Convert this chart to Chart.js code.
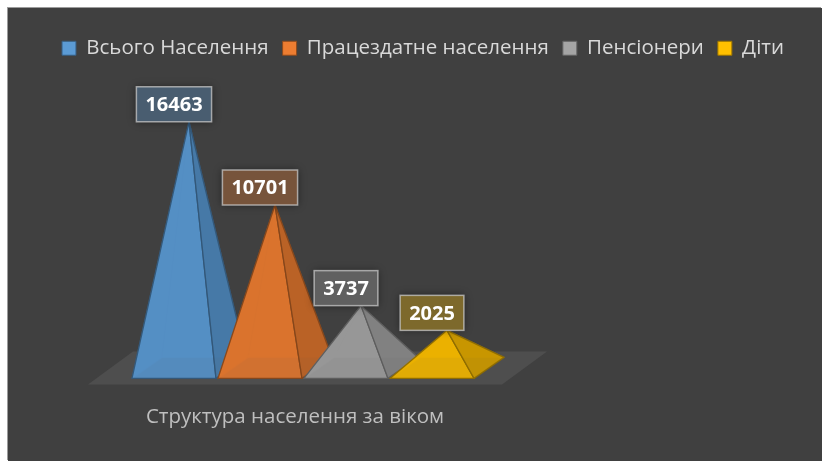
<!DOCTYPE html>
<html>
<head>
<meta charset="utf-8">
<script src="https://cdn.jsdelivr.net/npm/chart.js@4.4.1/dist/chart.umd.min.js"></script>
<style>
  body { margin: 0; background: #ffffff; }
  #wrap {
    position: absolute; left: 8px; top: 8px; width: 814px; height: 453px;
    background: #404040; box-shadow: -1px -1px 0 #9c9c9c;
  }
</style>
</head>
<body>
<div id="wrap"><canvas id="pyramids" width="814" height="453"></canvas></div>
<script>
var categories = ["Структура населення за віком"];
var seriesNames = ["Всього Населення", "Працездатне населення", "Пенсіонери", "Діти"];
var seriesValues = [16463, 10701, 3737, 2025];
var seriesColors = ["#5b9bd5", "#ed7d31", "#a5a5a5", "#ffc000"];

var fontFamily = "'Open Sans', 'Noto Sans', sans-serif";

// hex -> [r,g,b]
function rgbOf(hex) {
  var n = parseInt(hex.slice(1), 16);
  return [(n >> 16) & 255, (n >> 8) & 255, n & 255];
}
function shade(hex, f, alpha) {
  var c = rgbOf(hex);
  return "rgba(" + Math.round(c[0] * f) + "," + Math.round(c[1] * f) + "," + Math.round(c[2] * f) + "," + (alpha == null ? 1 : alpha) + ")";
}
// mix colour over the dark panel background
function overBg(hex, a) {
  var c = rgbOf(hex);
  return "rgb(" + c.map(function (v) { return Math.round(64 + (v - 64) * a); }).join(",") + ")";
}

function tri(ctx, p1, p2, p3, fill, stroke) {
  ctx.beginPath();
  ctx.moveTo(p1[0], p1[1]);
  ctx.lineTo(p2[0], p2[1]);
  ctx.lineTo(p3[0], p3[1]);
  ctx.closePath();
  ctx.fillStyle = fill;
  ctx.fill();
  ctx.strokeStyle = stroke;
  ctx.stroke();
}

// depth of the 3d look
var depthX = 30, depthY = -21;

function drawPyramid(ctx, bar, base, color) {
  var hw = bar.width / 2;
  var fl = [bar.x - hw, base], fr = [bar.x + hw, base];
  var br = [fr[0] + depthX, base + depthY], bl = [fl[0] + depthX, base + depthY];
  var apex = [bar.x + depthX / 2, bar.y];
  var edge = shade(color, 0.55, 0.9);
  ctx.save();
  ctx.lineWidth = 1.3;
  ctx.lineJoin = "round";
  tri(ctx, fl, bl, apex, shade(color, 0.8), shade(color, 0.75, 0.5));
  tri(ctx, bl, br, apex, shade(color, 0.8), shade(color, 0.75, 0.5));
  tri(ctx, fl, fr, apex, shade(color, 0.93, 0.93), edge);
  tri(ctx, fr, br, apex, shade(color, 0.78, 0.95), edge);
  ctx.restore();
}

var pyramidPlugin = {
  id: "pyramids",
  beforeDatasetsDraw: function (chart) {
    var ctx = chart.ctx, area = chart.chartArea;
    // floor
    ctx.save();
    ctx.fillStyle = "#4e4e4e";
    ctx.beginPath();
    ctx.moveTo(area.left - 8, area.bottom + 6);
    ctx.lineTo(area.right - 8, area.bottom + 6);
    ctx.lineTo(area.right + 37, area.bottom - 27);
    ctx.lineTo(area.left + 37, area.bottom - 27);
    ctx.closePath();
    ctx.fill();
    ctx.restore();
    chart.data.datasets.forEach(function (ds, i) {
      var bar = chart.getDatasetMeta(i).data[0];
      drawPyramid(ctx, bar, area.bottom, seriesColors[i]);
    });
  },
  beforeDatasetDraw: function () {
    return false; // bars are only used for their positions
  },
  afterDatasetsDraw: function (chart) {
    var ctx = chart.ctx;
    ctx.save();
    ctx.font = "bold 20px " + fontFamily;
    ctx.textAlign = "center";
    ctx.textBaseline = "middle";
    chart.data.datasets.forEach(function (ds, i) {
      var bar = chart.getDatasetMeta(i).data[0];
      var txt = String(ds.data[0]);
      var w = ctx.measureText(txt).width + 18, h = 35;
      var x = bar.x - w / 2, y = bar.y - h;
      ctx.shadowColor = "rgba(0,0,0,0.45)";
      ctx.shadowBlur = 8;
      ctx.fillStyle = overBg(seriesColors[i], 0.32);
      ctx.fillRect(x, y, w, h);
      ctx.shadowColor = "transparent";
      ctx.shadowBlur = 0;
      ctx.lineWidth = 1.5;
      ctx.strokeStyle = "rgba(200,200,200,0.75)";
      ctx.strokeRect(x, y, w, h);
      ctx.fillStyle = "#ffffff";
      ctx.fillText(txt, bar.x, y + h / 2 + 1);
    });
    ctx.restore();
  }
};

var datasets = seriesNames.map(function (name, i) {
  return {
    label: name,
    data: [seriesValues[i]],
    backgroundColor: seriesColors[i],
    borderColor: shade(seriesColors[i], 0.6),
    borderWidth: 1,
    categoryPercentage: 0.831,
    barPercentage: 0.977
  };
});

new Chart(document.getElementById("pyramids").getContext("2d"), {
  type: "bar",
  data: { labels: categories, datasets: datasets },
  plugins: [pyramidPlugin],
  options: {
    responsive: false,
    animation: false,
    layout: { padding: { top: 16, bottom: 6, left: 16, right: 0 } },
    plugins: {
      tooltip: { enabled: false },
      legend: {
        position: "top",
        labels: {
          color: "#d9d9d9",
          font: { family: fontFamily, size: 20.5 },
          boxWidth: 14,
          boxHeight: 14,
          padding: 14
        }
      }
    },
    scales: {
      x: {
        grid: { display: false, drawTicks: false },
        border: { display: false },
        ticks: {
          color: "#bfbfbf",
          font: { family: fontFamily, size: 20.5 },
          padding: 26,
          labelOffset: -8
        }
      },
      y: {
        position: "left",
        min: -1300,
        max: 20150,
        grid: { display: false },
        border: { display: false },
        ticks: { display: false },
        afterFit: function (scale) { scale.width = 72; }
      },
      yRight: {
        position: "right",
        min: 0,
        max: 1,
        grid: { display: false },
        border: { display: false },
        ticks: { display: false },
        afterFit: function (scale) { scale.width = 312; }
      }
    }
  }
});
</script>
</body>
</html>
